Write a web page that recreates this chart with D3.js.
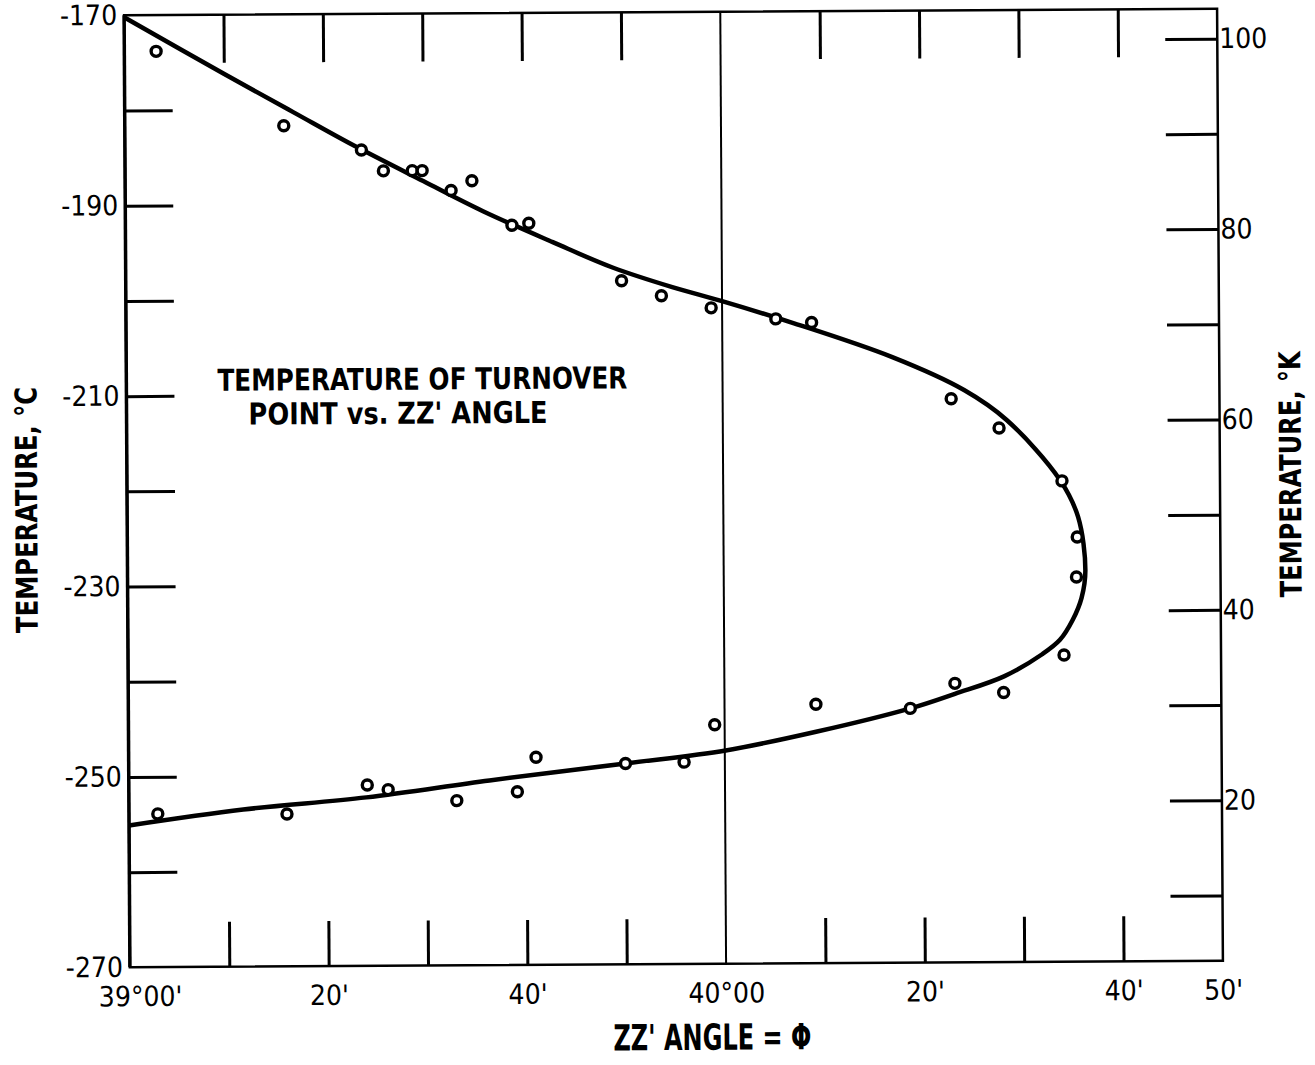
<!DOCTYPE html>
<html>
<head>
<meta charset="utf-8">
<script src="https://cdn.jsdelivr.net/npm/d3@7"></script>
<style>
  body { margin: 0; background: #fff; }
  svg { display: block; }
  text { font-family: "Liberation Sans Narrow", "DejaVu Sans Condensed", "Roboto Condensed", sans-serif; fill: #000; }
</style>
</head>
<body>
<svg id="vis-container"></svg>
<script>
const WIDTH = 1315
const HEIGHT = 1065
const MARGIN = { left: 127, right: 95, top: 12, bottom: 101 }
const CONTAINER = d3.select("#vis-container")

// angle in minutes past 39°00', temperature in °C
const pointAngle = [3.2, 16.0, 23.8, 26.0, 28.9, 29.9, 32.8, 34.9, 38.9, 40.6, 49.9, 53.9, 58.9, 65.4, 69.0,
    83.0, 87.8, 94.1, 95.6, 95.5, 94.2,
    88.1, 83.2, 78.7, 69.2, 59.0, 55.9, 50.0, 41.0, 39.1, 33.0, 26.1, 24.0, 15.9, 2.9]
const pointTemp = [-173.8, -181.7, -184.3, -186.5, -186.5, -186.5, -188.6, -187.6, -192.3, -192.1, -198.2, -199.8, -201.1, -202.3, -202.7,
    -210.8, -213.9, -219.5, -225.4, -229.6, -237.8,
    -241.7, -240.7, -243.3, -242.8, -244.9, -248.8, -248.9, -248.2, -251.8, -252.7, -251.5, -251.0, -254.0, -253.9]

const curveAngle = [0, 10, 17, 23, 30, 36, 43, 49, 55, 60, 67, 77.1, 84.3, 88.6, 93.9, 95.7, 96.4,
    96.0, 95.1, 93.8, 92.0, 88.15, 83.2, 78.7, 69.2, 60.1, 50.0, 36.3, 23.9, 11.5, 0]
const curveTemp = [-170.2, -176.2, -180.3, -183.8, -187.6, -190.8, -194.1, -196.8, -198.9, -200.4, -202.7, -206.4, -209.9, -213.1, -219.4, -223.3, -228.9,
    -231.8, -234.1, -236.2, -237.7, -240.0, -241.8, -243.3, -245.7, -247.6, -248.9, -250.6, -252.3, -253.5, -255.1]

const celsiusTicks = [-180, -190, -200, -210, -220, -230, -240, -250, -260]
const celsiusLabels = [-170, -190, -210, -230, -250, -270]
const kelvinTicks = [10, 20, 30, 40, 50, 60, 70, 80, 90, 100]
const kelvinLabels = [20, 40, 60, 80, 100]
const angleTicks = [10, 20, 30, 40, 50, 70, 80, 90, 100]
const angleLabelPos = [0, 20, 40, 60, 80, 100, 110]
const angleLabelText = ["39°00'", "20'", "40'", "40°00", "20'", "40'", "50'"]

const KELVIN_OFFSET = 273.15

initVisualization()

function initVisualization() {
    CONTAINER.attr('width', WIDTH).attr('height', HEIGHT)

    const left = MARGIN.left
    const right = WIDTH - MARGIN.right
    const top = MARGIN.top
    const bottom = HEIGHT - MARGIN.bottom

    const x = d3.scaleLinear().domain([0, 110]).range([left, right])
    const y = d3.scaleLinear().domain([-170, -270]).range([top, bottom])
    const yK = d3.scaleLinear()
        .domain([-170 + KELVIN_OFFSET, -270 + KELVIN_OFFSET])
        .range([top, bottom])

    // the scanned figure sits slightly tilted
    const root = CONTAINER.append('g')
        .attr('transform', `rotate(-0.35, ${(left + right) / 2}, ${(top + bottom) / 2})`)

    // frame
    root.append('rect')
        .attr('x', left).attr('y', top)
        .attr('width', right - left).attr('height', bottom - top)
        .attr('fill', 'none').attr('stroke', '#000').attr('stroke-width', 2.5)
    root.append('line')
        .attr('x1', left).attr('x2', left).attr('y1', top).attr('y2', bottom)
        .attr('stroke', '#000').attr('stroke-width', 3.5)

    // 40°00' reference line
    root.append('line')
        .attr('x1', x(60)).attr('x2', x(60))
        .attr('y1', top).attr('y2', bottom)
        .attr('stroke', '#000').attr('stroke-width', 2)

    const tickStyle = g => {
        g.select('.domain').remove()
        g.selectAll('.tick line').attr('stroke', '#000').attr('stroke-width', 3)
    }
    const labelStyle = g => {
        g.select('.domain').remove()
        g.selectAll('.tick line').remove()
        g.selectAll('.tick text').attr('font-size', 28).attr('fill', '#000')
    }

    // inward ticks
    root.append('g').attr('transform', `translate(${left},0)`)
        .call(d3.axisRight(y).tickValues(celsiusTicks).tickSize(48).tickFormat(''))
        .call(tickStyle)
    root.append('g').attr('transform', `translate(${right},0)`)
        .call(d3.axisLeft(yK).tickValues(kelvinTicks).tickSize(52).tickFormat(''))
        .call(tickStyle)
    root.append('g').attr('transform', `translate(0,${top})`)
        .call(d3.axisBottom(x).tickValues(angleTicks).tickSize(48).tickFormat(''))
        .call(tickStyle)
    root.append('g').attr('transform', `translate(0,${bottom})`)
        .call(d3.axisTop(x).tickValues(angleTicks).tickSize(45).tickFormat(''))
        .call(tickStyle)

    // tick labels
    root.append('g').attr('transform', `translate(${left},0)`)
        .call(d3.axisLeft(y).tickValues(celsiusLabels).tickSize(0).tickPadding(7).tickFormat(d => d))
        .call(labelStyle)
    root.append('g').attr('transform', `translate(${right},0)`)
        .call(d3.axisRight(yK).tickValues(kelvinLabels).tickSize(0).tickPadding(2))
        .call(labelStyle)
    root.append('g').attr('transform', `translate(0,${bottom})`)
        .call(d3.axisBottom(x).tickValues(angleLabelPos).tickSize(0).tickPadding(19)
            .tickFormat((d, i) => angleLabelText[i]))
        .call(labelStyle)
        .call(g => g.select('.tick text').attr('dx', 10))

    // axis titles
    root.append('text')
        .attr('transform', `translate(37,506) rotate(-90)`)
        .attr('text-anchor', 'middle')
        .attr('font-size', 30).attr('font-weight', 'bold')
        .attr('textLength', 246).attr('lengthAdjust', 'spacingAndGlyphs')
        .text('TEMPERATURE, °C')
    root.append('text')
        .attr('transform', `translate(1301,478) rotate(-90)`)
        .attr('text-anchor', 'middle')
        .attr('font-size', 30).attr('font-weight', 'bold')
        .attr('textLength', 246).attr('lengthAdjust', 'spacingAndGlyphs')
        .text('TEMPERATURE, °K')
    root.append('text')
        .attr('x', 610).attr('y', 1050)
        .attr('font-size', 36).attr('font-weight', 'bold')
        .attr('textLength', 198).attr('lengthAdjust', 'spacingAndGlyphs')
        .text("ZZ' ANGLE = Φ")

    // inner caption
    root.append('text')
        .attr('x', 218).attr('y', 388)
        .attr('font-size', 30).attr('font-weight', 'bold')
        .attr('textLength', 410).attr('lengthAdjust', 'spacingAndGlyphs')
        .text('TEMPERATURE OF TURNOVER')
    root.append('text')
        .attr('x', 249).attr('y', 422)
        .attr('font-size', 30).attr('font-weight', 'bold')
        .attr('textLength', 299).attr('lengthAdjust', 'spacingAndGlyphs')
        .text("POINT vs. ZZ' ANGLE")

    // fitted curve
    const curve = curveAngle.map((a, i) => [a, curveTemp[i]])
    root.append('path')
        .datum(curve)
        .attr('d', d3.line().x(d => x(d[0])).y(d => y(d[1])).curve(d3.curveCatmullRom.alpha(0.5)))
        .attr('fill', 'none').attr('stroke', '#000').attr('stroke-width', 4.5)

    // measured points
    root.append('g').selectAll('circle')
        .data(pointAngle.map((a, i) => [a, pointTemp[i]]))
        .join('circle')
        .attr('cx', d => x(d[0]))
        .attr('cy', d => y(d[1]))
        .attr('r', 5)
        .attr('fill', '#fff').attr('stroke', '#000').attr('stroke-width', 3.4)
}
</script>
</body>
</html>
